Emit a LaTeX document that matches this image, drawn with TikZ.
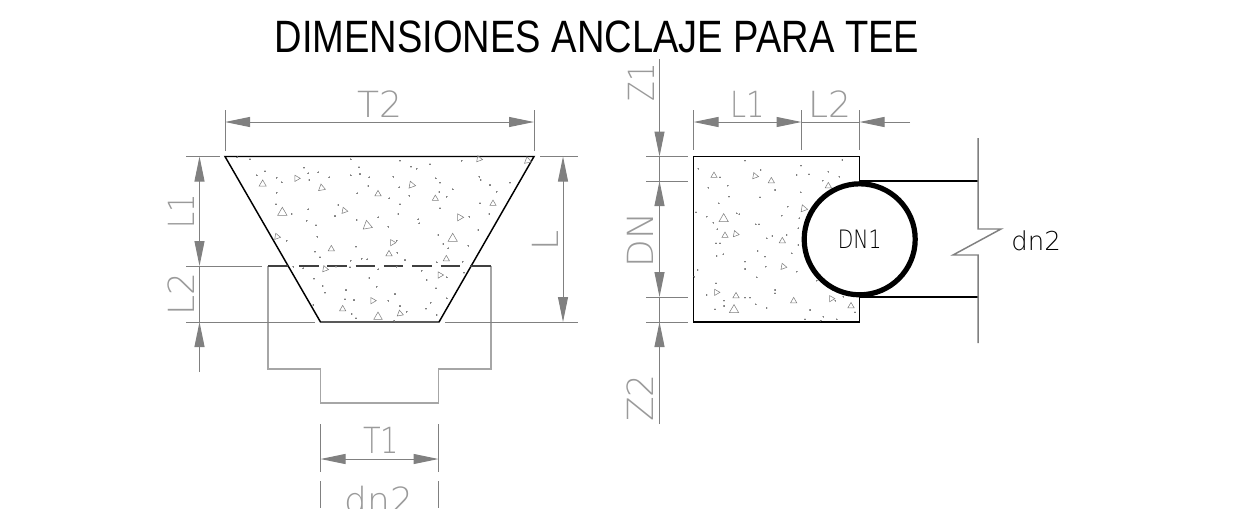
\documentclass[tikz,border=0pt]{standalone}
\usepackage{xcolor}
\usepackage{fontspec}
\usetikzlibrary{arrows.meta}
\setmainfont[FakeStretch=0.84]{Liberation Sans}
\newfontfamily\dimfont{DejaVu Sans ExtraLight}
\newfontfamily\dimnarrow[FakeStretch=0.8]{DejaVu Sans ExtraLight}
\definecolor{dimcolor}{HTML}{808080}
\definecolor{dimtext}{HTML}{9a9a9a}
\definecolor{teecolor}{HTML}{a6a6a6}
\tikzset{
  dimline/.style={draw=dimcolor, line width=0.75pt},
  dimtip/.style={-{Triangle[length=18.75pt, width=7.5pt, fill=dimcolor]}},
  dimboth/.style={{Triangle[length=18.75pt, width=7.5pt, fill=dimcolor]}-{Triangle[length=18.75pt, width=7.5pt, fill=dimcolor]}},
  dimlabel/.style={text=dimtext, inner sep=0pt, font=\dimfont\fontsize{27pt}{27pt}\selectfont},
  dimlabelnarrow/.style={text=dimtext, inner sep=0pt, font=\dimnarrow\fontsize{27pt}{27pt}\selectfont},
  outline/.style={draw=black, line width=1.1pt},
  teeline/.style={draw=teecolor, line width=1.1pt},
}
\newcommand{\grit}[4]{\draw[dimcolor, line width=0.4pt, shift={(#1,#2)}, rotate=#3, scale=1.35*#4] (270:1) -- (30:1) -- (150:1) -- cycle;}
\begin{document}
\begin{tikzpicture}[x=0.75pt, y=-0.75pt]%
\useasboundingbox (0,0) rectangle (1244,508);%
\node[font=\fontsize{34pt}{34pt}\selectfont, inner sep=0pt] (title) at (597,37) {DIMENSIONES ANCLAJE PARA TEE};%
% left view
\draw[teeline] (268,266) -- (268,369) -- (320.5,369) -- (320.5,403) -- (438.5,403) -- (438.5,369) -- (491,369) -- (491,266);%
\draw[outline] (225,156.5) -- (534,156.5) -- (439,322) -- (320.5,322) -- cycle;%
\draw[draw=black!75, line width=1.3pt] (268,266) -- (288,266);%
\draw[draw=black!75, line width=1.3pt, dash pattern=on 19.5*0.75pt off 8.8*0.75pt] (299,266) -- (462,266);%
\draw[draw=black!75, line width=1.3pt] (470,266) -- (491,266);%
\begin{scope}[shift={(150,70)}, scale=1/3]%
\foreach \px/\py/\pr/\ps in {338/342/0/9, 440/325/30/8, 515/354/10/9, 684/372/0/8, 785/345/20/9, 856/386/0/8, 987/267/20/8, 1133/272/10/9, 1029/401/0/8, 397/428/0/12, 583/422/20/8, 652/467/10/12, 929/442/30/9, 381/500/20/8, 908/506/0/12, 544/537/0/8, 727/518/30/8, 717/552/0/8, 889/567/0/8, 525/597/20/8, 870/615/30/8, 668/692/30/8, 578/717/0/8, 750/731/10/8, 684/741/0/11}%
  \grit{\px}{\py}{\pr}{\ps}%
\foreach \px/\py in {300/268, 262/262, 602/268, 750/272, 840/283, 935/272, 345/304, 320/316, 380/323, 395/337, 462/293, 475/310, 505/307, 478/330, 538/322, 627/292, 630/312, 602/316, 658/322, 730/320, 783/290, 800/296, 857/325, 870/338, 988/320, 992/330, 1020/345, 1040/365, 1080/338, 655/348, 622/370, 748/352, 718/385, 778/377, 868/366, 890/380, 908/358, 380/368, 378/403, 425/432, 475/418, 565/405, 555/438, 620/450, 685/442, 745/432, 750/403, 870/415, 990/400, 1018/432, 958/440, 805/448, 808/460, 470/452, 498/466, 715/470, 985/480, 502/500, 410/512, 865/495, 880/522, 955/527, 895/535, 618/530, 740/512, 742/548, 495/545, 510/562, 602/572, 635/566, 652/568, 765/570, 860/577, 938/575, 430/590, 460/595, 558/590, 600/592, 685/598, 740/590, 815/602, 942/608, 890/622, 492/626, 658/624, 830/630, 518/648, 525/668, 588/660, 680/650, 858/655, 735/672, 585/688, 612/690, 715/692, 890/685, 842/698, 490/705, 750/708, 828/716, 770/725, 605/732, 618/745, 860/735, 733/752}%
  \fill[dimcolor] (\px,\py) circle (1.5);%
\end{scope}%
% left view dimensions
\draw[dimline] (225,110) -- (225,151);%
\draw[dimline] (534,110) -- (534,151);%
\draw[dimline, dimboth] (225,122) -- (534,122);%
\draw[dimline] (186,156.5) -- (220,156.5);%
\draw[dimline] (186,266) -- (262,266);%
\draw[dimline] (186,322) -- (315,322);%
\draw[dimline] (445,322) -- (578,322);%
\draw[dimline] (540,156.5) -- (578,156.5);%
\draw[dimline, dimboth] (199.5,156.5) -- (199.5,266);%
\draw[dimline] (199.5,266) -- (199.5,322);%
\draw[dimline, dimtip] (199.5,372) -- (199.5,322);%
\draw[dimline, dimboth] (563,156.5) -- (563,322);%
\draw[dimline] (320.5,424) -- (320.5,472);%
\draw[dimline] (438.5,424) -- (438.5,472);%
\draw[dimline] (320.5,481) -- (320.5,508);%
\draw[dimline] (438.5,481) -- (438.5,508);%
\draw[dimline, dimboth] (320.5,459) -- (438.5,459);%
\node[dimlabel] (labelT) at (380,104) {T2};%
\node[dimlabelnarrow, rotate=90] (labelLa) at (181,211) {L1};%
\node[dimlabel, rotate=90] (labelLb) at (181,294) {L2};%
\node[dimlabel, rotate=90] (labelL) at (545,240) {L};%
\node[dimlabelnarrow] (labelTa) at (381,440) {T1};%
\node[dimlabel, anchor=north] (labelDn) at (379,486) {dn2};%
% right view
\draw[draw=black, line width=0.9pt] (859.5,181) -- (978,181);%
\draw[draw=black, line width=0.9pt] (859.5,297) -- (978,297);%
\draw[teeline, draw=dimcolor] (978,138) -- (978,229) -- (1001,229) -- (953,255) -- (978,255) -- (978,343);%
\draw[outline, line width=0.9pt] (859.5,181) -- (859.5,156.5) -- (693.5,156.5) -- (693.5,322) -- (859.5,322) -- (859.5,297);%
\begin{scope}[shift={(610,70)}, scale=1/3]%
\foreach \px/\py/\pr/\ps in {312/317/0/8, 435/318/20/8, 484/333/0/8, 655/348/0/8, 581/416/20/9, 341/447/0/12, 345/497/0/8, 377/492/20/8, 517/513/0/8, 520/590/20/8, 319/667/30/8, 378/678/0/8, 372/720/0/12, 551/693/0/8, 664/686/30/8, 723/708/0/8}%
  \grit{\px}{\py}{\pr}{\ps}%
\foreach \px/\py in {265/296, 405/272, 573/287, 697/270, 452/300, 330/322, 295/353, 353/347, 357/380, 326/400, 450/382, 560/315, 597/313, 655/305, 688/320, 638/332, 495/360, 572/367, 533/410, 515/437, 380/430, 388/433, 290/440, 258/427, 310/458, 322/478, 437/463, 447/463, 568/445, 470/505, 487/498, 530/495, 318/520, 330/520, 565/475, 565/525, 443/543, 465/560, 545/550, 320/558, 340/553, 405/575, 405/597, 467/590, 560/605, 263/600, 440/622, 253/620, 318/640, 290/675, 342/692, 342/708, 405/683, 420/683, 437/703, 470/714, 495/660, 495/670, 315/718, 600/720, 585/748, 640/740, 632/752, 680/748, 735/727, 620/632, 676/692, 700/680}%
  \fill[dimcolor] (\px,\py) circle (1.5);%
\end{scope}%
\node[draw=black, line width=3.9pt, fill=white, circle, minimum size=111*0.75pt, inner sep=0pt, text=black, font=\dimnarrow\fontsize{19pt}{19pt}\selectfont] (pipe) at (859.7,239.3) {DN1};%
\node[text=black, inner sep=0pt, font=\dimfont\fontsize{19.5pt}{19.5pt}\selectfont, anchor=west] (labelBranch) at (1011,241) {dn2};%
% right view dimensions
\draw[dimline] (693.5,110) -- (693.5,150);%
\draw[dimline] (801.5,110) -- (801.5,150);%
\draw[dimline] (859.5,110) -- (859.5,150);%
\draw[dimline, dimboth] (693.5,122) -- (801.5,122);%
\draw[dimline] (801.5,122) -- (859.5,122);%
\draw[dimline, dimtip] (910,122) -- (859.5,122);%
\draw[dimline] (646,156.5) -- (688,156.5);%
\draw[dimline] (646,181) -- (688,181);%
\draw[dimline] (646,297) -- (688,297);%
\draw[dimline] (646,322) -- (688,322);%
\draw[dimline, dimtip] (659.5,59) -- (659.5,156.5);%
\draw[dimline] (659.5,156.5) -- (659.5,181);%
\draw[dimline, dimboth] (659.5,181) -- (659.5,297);%
\draw[dimline] (659.5,297) -- (659.5,322);%
\draw[dimline, dimtip] (659.5,424) -- (659.5,322);%
\node[dimlabelnarrow, rotate=90] (labelZa) at (641,82.5) {Z1};%
\node[dimlabel, rotate=90] (labelDN) at (640,240) {DN};%
\node[dimlabel, rotate=90] (labelZb) at (640,398) {Z2};%
\node[dimlabelnarrow] (labelLc) at (748,104) {L1};%
\node[dimlabel] (labelLd) at (830,104) {L2};%
\end{tikzpicture}
\end{document}
